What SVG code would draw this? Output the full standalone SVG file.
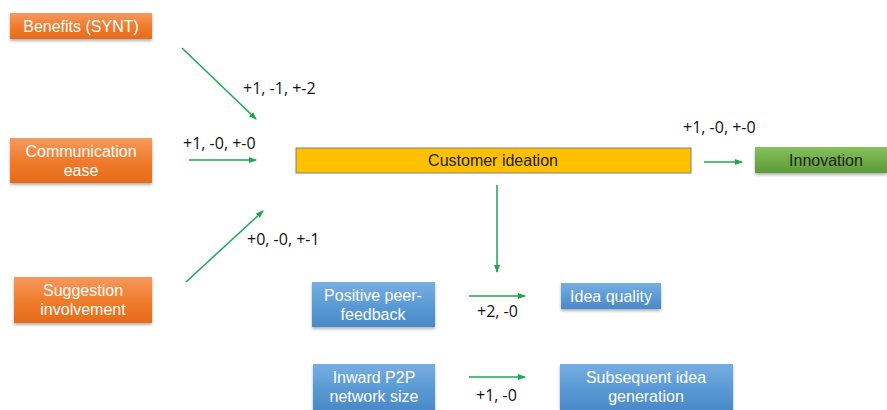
<svg xmlns="http://www.w3.org/2000/svg" width="887" height="410" viewBox="0 0 887 410">
<defs>
<linearGradient id="gO" x1="0" y1="0" x2="0" y2="1"><stop offset="0" stop-color="#F59A5E"/><stop offset="0.5" stop-color="#F07C2E"/><stop offset="1" stop-color="#E56B1A"/></linearGradient>
<linearGradient id="gB" x1="0" y1="0" x2="0" y2="1"><stop offset="0" stop-color="#78AEE2"/><stop offset="0.5" stop-color="#5B9BD5"/><stop offset="1" stop-color="#4A89C8"/></linearGradient>
<linearGradient id="gG" x1="0" y1="0" x2="0" y2="1"><stop offset="0" stop-color="#86C25C"/><stop offset="0.5" stop-color="#70AD47"/><stop offset="1" stop-color="#5E9A38"/></linearGradient>
<filter id="sh" x="-10%" y="-20%" width="120%" height="160%"><feDropShadow dx="0" dy="2" stdDeviation="1.5" flood-color="#000" flood-opacity="0.3"/></filter>
<marker id="ah" markerWidth="8" markerHeight="8" refX="7" refY="4" orient="auto" markerUnits="userSpaceOnUse"><path d="M0,1 L8,4 L0,7 z" fill="#1EA651"/></marker>
</defs>
<style>
.o{fill:url(#gO);filter:url(#sh)}
.b{fill:url(#gB);filter:url(#sh)}
.g{fill:url(#gG);filter:url(#sh)}
.t{font-family:"Liberation Sans",Arial,sans-serif;font-size:16px;text-anchor:middle;fill:#fff}
.d{fill:#222}
.l{font-family:"Open Sans","Liberation Sans",sans-serif;font-size:16px;fill:#111}
.c{stroke:#1EA651;stroke-width:1.5;fill:none;marker-end:url(#ah)}
</style>
<rect width="887" height="410" fill="#fff"/>
<g id="benefits"><rect class="o" x="10" y="13" width="142" height="26"/><text class="t" x="81" y="32">Benefits (SYNT)</text></g>
<g id="communication"><rect class="o" x="10" y="138" width="142" height="45"/><text class="t" x="81" y="157">Communication</text><text class="t" x="81" y="176">ease</text></g>
<g id="suggestion"><rect class="o" x="14" y="277" width="138" height="46"/><text class="t" x="83" y="296">Suggestion</text><text class="t" x="83" y="315">involvement</text></g>
<g id="ideation"><rect x="296" y="148" width="395" height="25" fill="#FFC000" stroke="#7F7F7F" stroke-width="1"/><text class="t d" x="493" y="166">Customer ideation</text></g>
<g id="innovation"><rect class="g" x="755" y="147" width="132" height="26"/><text class="t d" x="826" y="166">Innovation</text></g>
<g id="peer"><rect class="b" x="312" y="282" width="123" height="45"/><text class="t" x="373" y="301">Positive peer-</text><text class="t" x="373" y="320">feedback</text></g>
<g id="quality"><rect class="b" x="561" y="283" width="100" height="26"/><text class="t" x="611" y="302">Idea quality</text></g>
<g id="inward"><rect class="b" x="313" y="364" width="122" height="46"/><text class="t" x="374" y="383">Inward P2P</text><text class="t" x="374" y="402">network size</text></g>
<g id="subsequent"><rect class="b" x="560" y="364" width="173" height="46"/><text class="t" x="646" y="383">Subsequent idea</text><text class="t" x="646" y="402">generation</text></g>
<g id="connectors">
<line class="c" x1="182" y1="48" x2="256" y2="119"/>
<line class="c" x1="189" y1="160" x2="256" y2="160"/>
<line class="c" x1="186" y1="282" x2="263" y2="211"/>
<line class="c" x1="497" y1="185" x2="497" y2="272"/>
<line class="c" x1="704" y1="162" x2="742" y2="162"/>
<line class="c" x1="469" y1="296" x2="525" y2="296"/>
<line class="c" x1="469" y1="377" x2="525" y2="377"/>
<text class="l" x="243" y="94">+1, -1, +-2</text>
<text class="l" x="183" y="149">+1, -0, +-0</text>
<text class="l" x="247" y="245">+0, -0, +-1</text>
<text class="l" x="683" y="133">+1, -0, +-0</text>
<text class="l" x="477" y="317">+2, -0</text>
<text class="l" x="476" y="401">+1, -0</text>
</g>
</svg>
